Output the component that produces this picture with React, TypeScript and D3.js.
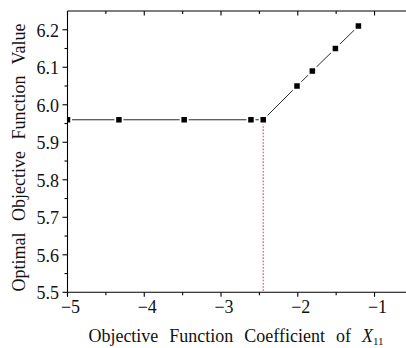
import React, { useEffect, useRef } from 'react';
import * as d3 from 'd3';

// values
const coefX = [-5, -4.33, -3.48, -2.61, -2.45, -2.01, -1.81, -1.51, -1.21];
const objValue = [5.96, 5.96, 5.96, 5.96, 5.96, 6.05, 6.09, 6.15, 6.21];
const breakX = -2.45;
const xTicks = [-5, -4, -3, -2, -1];
const xMinor = [-4.5, -3.5, -2.5, -1.5];
const yTicks = [5.5, 5.6, 5.7, 5.8, 5.9, 6.0, 6.1, 6.2];
const yMinor = [5.55, 5.65, 5.75, 5.85, 5.95, 6.05, 6.15];

const App = () => {
    const svgRef = useRef<SVGSVGElement>(null);

    useEffect(() => {
        const width = 406;
        const height = 348;
        const left = 67.5, right = 406, top = 11, bottom = 292.3;
        const font = '"Liberation Serif", "Times New Roman", serif';

        const x = d3.scaleLinear().domain([-5, -0.59]).range([left, right]);
        const y = d3.scaleLinear().domain([5.5, 6.25]).range([bottom, top]);

        const svg = d3.select(svgRef.current);
        svg.selectAll('*').remove();
        svg.attr('width', width).attr('height', height);

        svg.append('defs').append('clipPath').attr('id', 'plotclip')
            .append('rect')
            .attr('x', left).attr('y', top)
            .attr('width', right - left).attr('height', bottom - top);

        const plot = svg.append('g').attr('clip-path', 'url(#plotclip)');

        // red dotted drop line
        plot.append('line')
            .attr('x1', x(breakX)).attr('x2', x(breakX))
            .attr('y1', y(5.96)).attr('y2', bottom)
            .attr('stroke', '#f25c66')
            .attr('stroke-width', 1.3)
            .attr('stroke-dasharray', '1.6,1.6');

        const pts = coefX.map((c, i) => [c, objValue[i]] as [number, number]);
        const line = d3.line<[number, number]>()
            .x(d => x(d[0]))
            .y(d => y(d[1]));

        plot.append('path')
            .datum(pts)
            .attr('fill', 'none')
            .attr('stroke', '#2a2a2a')
            .attr('stroke-width', 1)
            .attr('d', line);

        const ms = 5.5;
        plot.selectAll('rect.pt')
            .data(pts)
            .enter()
            .append('rect')
            .attr('class', 'pt')
            .attr('x', d => x(d[0]) - ms / 2)
            .attr('y', d => y(d[1]) - ms / 2)
            .attr('width', ms).attr('height', ms)
            .attr('fill', '#000')
            .attr('stroke', '#fff')
            .attr('stroke-width', 3.5)
            .attr('paint-order', 'stroke');

        // axes
        const axes = svg.append('g').attr('stroke', '#000').attr('stroke-width', 1.1);
        axes.append('line').attr('x1', left).attr('x2', right).attr('y1', bottom).attr('y2', bottom);
        axes.append('line').attr('x1', left).attr('x2', right).attr('y1', top).attr('y2', top);
        axes.append('line').attr('x1', left).attr('x2', left).attr('y1', top).attr('y2', bottom + 4);

        // bottom ticks outward, top ticks inward
        xTicks.concat(xMinor).forEach(t => {
            const major = xTicks.includes(t);
            axes.append('line')
                .attr('x1', x(t)).attr('x2', x(t))
                .attr('y1', bottom).attr('y2', bottom + (major ? 4.5 : 3));
            axes.append('line')
                .attr('x1', x(t)).attr('x2', x(t))
                .attr('y1', top).attr('y2', top + (major ? 4.5 : 3));
        });
        yTicks.concat(yMinor).forEach(t => {
            const major = yTicks.some(v => Math.abs(v - t) < 1e-9);
            axes.append('line')
                .attr('x1', left - (major ? 5 : 3)).attr('x2', left)
                .attr('y1', y(t)).attr('y2', y(t));
        });

        const fmtX = d3.format('d');
        svg.append('g')
            .selectAll('text')
            .data(xTicks)
            .enter()
            .append('text')
            .attr('x', d => x(d) + 3)
            .attr('y', 313)
            .attr('text-anchor', 'middle')
            .attr('font-family', font)
            .attr('font-size', 18)
            .attr('fill', '#111')
            .text(d => fmtX(d));

        const fmtY = d3.format('.1f');
        svg.append('g')
            .selectAll('text')
            .data(yTicks)
            .enter()
            .append('text')
            .attr('x', 59)
            .attr('y', d => y(d) + 7)
            .attr('text-anchor', 'end')
            .attr('font-family', font)
            .attr('font-size', 18)
            .attr('fill', '#111')
            .text(d => fmtY(d));

        // axis titles
        const xt = svg.append('text')
            .attr('x', 236)
            .attr('y', 342)
            .attr('text-anchor', 'middle')
            .attr('font-family', font)
            .attr('font-size', 18)
            .attr('word-spacing', 6.5)
            .attr('fill', '#111');
        xt.append('tspan').text('Objective Function Coefficient of ');
        xt.append('tspan').attr('font-style', 'italic').text('X');
        xt.append('tspan').attr('font-size', 11).attr('dy', 3).text('11');

        svg.append('text')
            .attr('transform', `translate(25, 157.5) rotate(-90)`)
            .attr('text-anchor', 'middle')
            .attr('font-family', font)
            .attr('font-size', 18)
            .attr('word-spacing', 7)
            .attr('fill', '#111')
            .text('Optimal Objective Function Value');
    }, []);

    return (
        <svg ref={svgRef} style={{ position: 'absolute', left: 0, top: 0, background: '#fff' }}></svg>
    );
};

export default App;
